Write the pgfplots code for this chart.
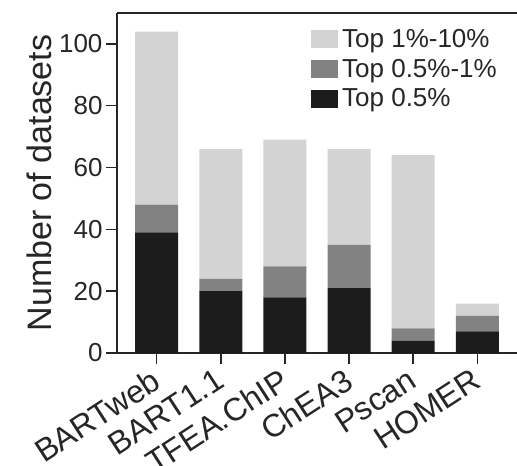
\documentclass[border=0pt]{standalone}
\usepackage{pgfplots}
\pgfplotsset{compat=1.18}
\usepackage{fontspec}
\setmainfont{Liberation Sans}
\definecolor{cLight}{HTML}{D3D3D3}
\definecolor{cMid}{HTML}{828282}
\definecolor{cDark}{HTML}{1C1C1C}
\begin{document}
\begin{tikzpicture}
\begin{axis}[
  name=ax,
  scale only axis,
  width=400pt, height=340pt,
  xmin=-0.62, xmax=5.62,
  ymin=0, ymax=110,
  ybar stacked,
  bar width=43pt,
  axis x line=box,
  axis y line=left,
  axis line style={line width=1.5pt, -, black!85},
  xtick={0,1,2,3,4,5},
  xticklabels={BARTweb,BART1.1,TFEA.ChIP,ChEA3,Pscan,HOMER},
  ytick={0,20,40,60,80,100},
  xtick pos=bottom, ytick pos=left,
  tick align=outside,
  major tick length=11pt,
  tick style={line width=1.5pt, black!85},
  /pgf/number format/assume math mode=true,
  yticklabel style={font=\fontsize{26}{30}\selectfont, text=black!85},
  xticklabel style={font=\fontsize{32}{37}\selectfont, text=black!85, rotate=33, anchor=north east, inner sep=1pt, xshift=-6pt, yshift=2pt},
  ylabel={Number of datasets},
  ylabel style={font=\fontsize{34}{40}\selectfont, text=black!85},
  reverse legend,
  legend style={at={(0.485,0.958)}, anchor=north west, draw=none, fill=none,
    font=\fontsize{26}{30}\selectfont, text=black!85, inner sep=0pt,
    row sep=6pt, cells={anchor=west}},
  legend image code/.code={\fill[#1,draw=none] (0pt,-9pt) rectangle (27pt,9pt); \path (29pt,0pt);},
]
\addplot[fill=cDark, draw=none] coordinates {(0,39) (1,20) (2,18) (3,21) (4,4) (5,7)};
\addplot[fill=cMid, draw=none] coordinates {(0,9) (1,4) (2,10) (3,14) (4,4) (5,5)};
\addplot[fill=cLight, draw=none] coordinates {(0,56) (1,42) (2,41) (3,31) (4,56) (5,4)};
\legend{Top 0.5\%,Top 0.5\%-1\%,Top 1\%-10\%}
\end{axis}
\pgfresetboundingbox
\path ([shift={(-117pt,-113pt)}]ax.south west) rectangle ([shift={(400pt,353pt)}]ax.south west);
\end{tikzpicture}
\end{document}
